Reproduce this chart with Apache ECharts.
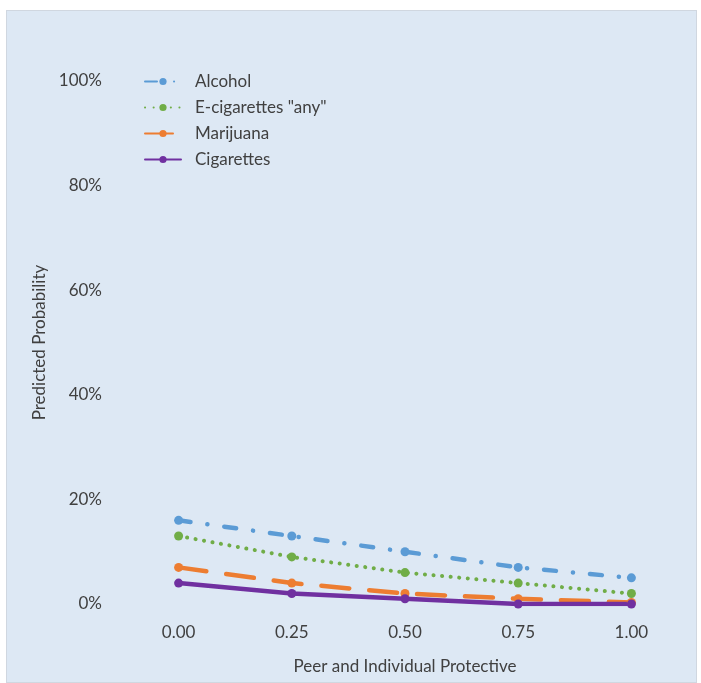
<!DOCTYPE html>
<html><head><meta charset="utf-8">
<script src="https://cdn.jsdelivr.net/npm/echarts@6/dist/echarts.min.js"></script>
<style>html,body{margin:0;padding:0;background:#fff}#c{position:absolute;left:6px;top:10px;width:691px;height:673px;background:#dde8f4;border:1px solid #d0d7e0;box-sizing:border-box}</style>
</head><body><div id="c"></div>
<script>
const categories = ['0.00','0.25','0.50','0.75','1.00'];
const alcohol = [16, 13, 10, 7, 5];
const ecig = [13, 9, 6, 4, 2];
const marijuana = [7, 4, 2, 1, 0.3];
const cigarettes = [4, 2, 1, 0, 0];
const seriesNames = ['Alcohol', 'E-cigarettes "any"', 'Marijuana', 'Cigarettes'];
const yTicks = [0, 20, 40, 60, 80, 100];

const chart = echarts.init(document.getElementById('c'));
const font = 'Lato, Open Sans, sans-serif';
const fs = 17;
const tc = '#404040';
const mk = (name, data, color, type, width, size) => ({
  name, type: 'line', data, symbol: 'circle', symbolSize: size,
  itemStyle: {color},
  lineStyle: {color, width, type, cap: 'round'},
  emphasis: {disabled: true}
});
chart.setOption({
  backgroundColor: 'transparent',
  animation: false,
  grid: {left: 115, right: 8, top: 70, bottom: 78},
  legend: {
    orient: 'vertical', left: 132, top: 57, itemGap: 9, itemWidth: 36, itemHeight: 9,
    textStyle: {fontFamily: font, fontSize: fs, color: tc, padding: [0, 0, 0, 9]},
    data: seriesNames
  },
  xAxis: {
    type: 'category', data: categories, boundaryGap: true,
    name: 'Peer and Individual Protective', nameLocation: 'middle', nameGap: 54,
    nameTextStyle: {fontFamily: font, fontSize: fs, color: tc},
    axisLine: {show: false}, axisTick: {show: false},
    axisLabel: {fontFamily: font, fontSize: fs, color: tc, margin: 20}
  },
  yAxis: {
    type: 'value', min: 0, max: 100, interval: 20,
    name: 'Predicted Probability', nameLocation: 'middle', nameGap: 59,
    nameTextStyle: {fontFamily: font, fontSize: fs, color: tc},
    splitLine: {show: false}, axisLine: {show: false}, axisTick: {show: false},
    axisLabel: {fontFamily: font, fontSize: fs, color: tc, margin: 20, formatter: v => yTicks.includes(v) ? v + '%' : ''}
  },
  series: [
    mk(seriesNames[0], alcohol, '#5b9bd5', [12, 17, 0.1, 17], 4.5, 9),
    mk(seriesNames[1], ecig, '#70ad47', [0.1, 8.5], 4, 9),
    mk(seriesNames[2], marijuana, '#ed7d31', [28, 20], 4.5, 9),
    mk(seriesNames[3], cigarettes, '#7030a0', 'solid', 4.5, 9)
  ]
});
</script></body></html>
